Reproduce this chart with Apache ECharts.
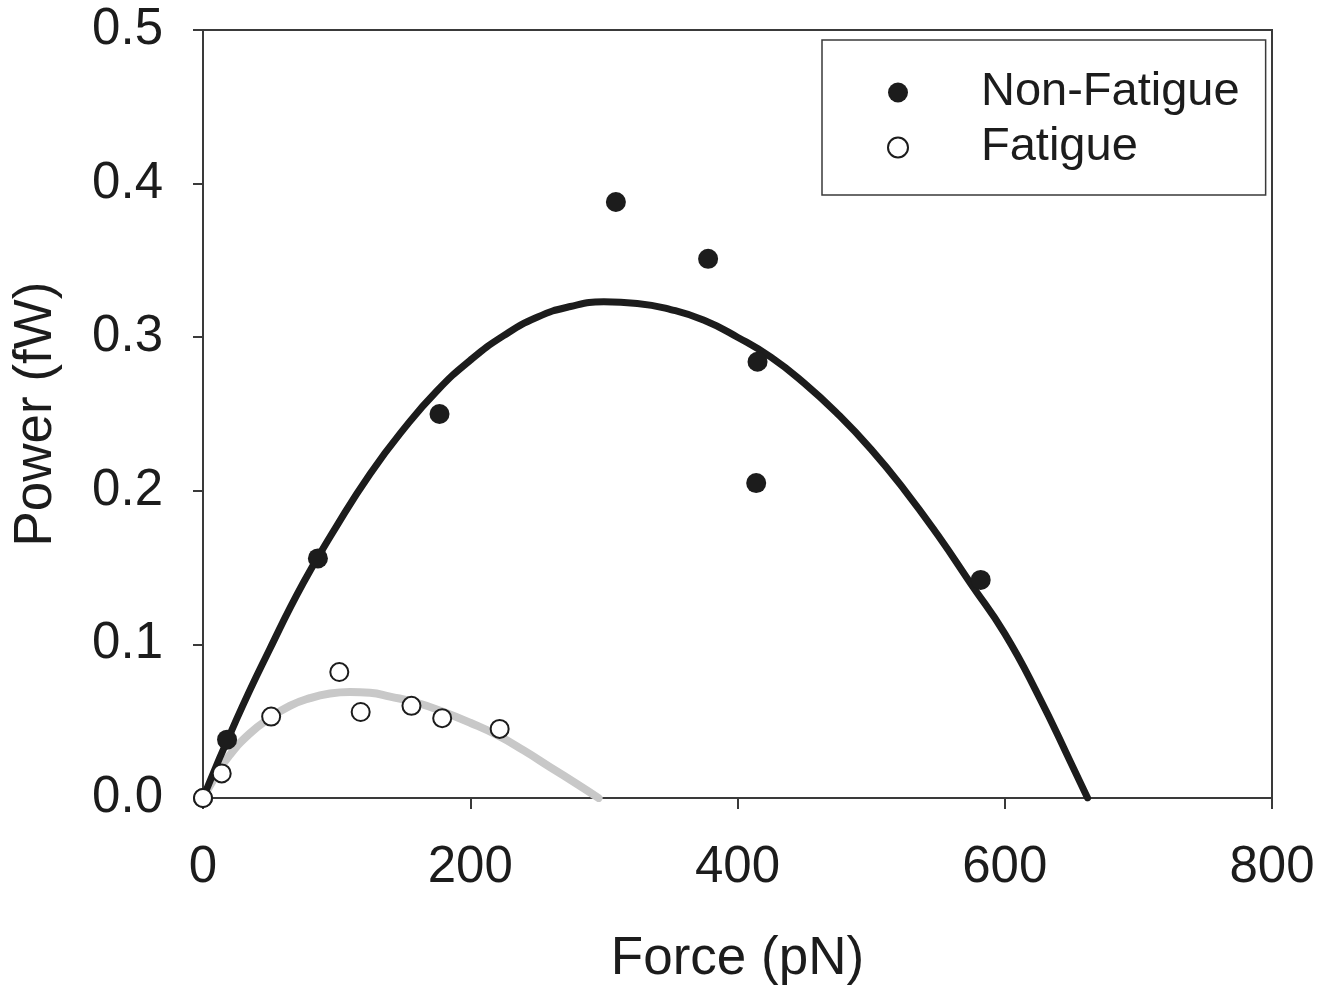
<!DOCTYPE html>
<html>
<head>
<meta charset="utf-8">
<script src="https://cdn.jsdelivr.net/npm/echarts@6/dist/echarts.min.js"></script>
<style>
html,body{margin:0;padding:0;background:#fff;}
#chart{width:1336px;height:991px;}
</style>
</head>
<body>
<div id="chart"></div>
<script>
// Measured points
var nonFatigueForce = [0, 18, 86, 177, 309, 378, 415, 414, 582];
var nonFatiguePower = [0, 0.038, 0.156, 0.250, 0.388, 0.351, 0.284, 0.205, 0.142];
var fatigueForce = [0, 14, 51, 102, 118, 156, 179, 222];
var fatiguePower = [0, 0.016, 0.053, 0.082, 0.056, 0.060, 0.052, 0.045];

// Fitted curves
var nonFatigueFitForce = [0, 25, 50, 75, 100, 125, 150, 175, 200, 225, 250, 275, 300, 325, 350, 375, 400, 425, 450, 475, 500, 525, 550, 575, 600, 625, 650, 662];
var nonFatigueFitPower = [0, 0.051, 0.097, 0.140, 0.177, 0.211, 0.240, 0.265, 0.285, 0.301, 0.313, 0.320, 0.323, 0.322, 0.318, 0.311, 0.300, 0.287, 0.270, 0.250, 0.227, 0.2005, 0.171, 0.139, 0.107, 0.067, 0.022, 0];
var fatigueFitForce = [0, 10, 20, 35, 50, 65, 80, 95, 110, 125, 140, 160, 180, 200, 220, 240, 260, 280, 296];
var fatigueFitPower = [0, 0.015, 0.028, 0.042, 0.052, 0.060, 0.065, 0.068, 0.069, 0.0685, 0.066, 0.062, 0.056, 0.049, 0.041, 0.031, 0.020, 0.009, 0];

var xTicks = [0, 200, 400, 600, 800];
var yTicks = [0.0, 0.1, 0.2, 0.3, 0.4, 0.5];
var xName = 'Force (pN)';
var yName = 'Power (fW)';
var seriesNames = ['Non-Fatigue', 'Fatigue'];

function pairs(xs, ys) {
  return xs.map(function (x, i) { return [x, ys[i]]; });
}

var font = 'Liberation Sans, Arial, sans-serif';
var ink = '#1c1c1c';

var chart = echarts.init(document.getElementById('chart'), null, {renderer: 'canvas'});
chart.setOption({
  animation: false,
  backgroundColor: '#ffffff',
  grid: {
    left: 203, top: 30, right: 64, bottom: 190,
    show: true, borderColor: '#3a3a3a', borderWidth: 2
  },
  legend: {
    data: seriesNames,
    orient: 'vertical',
    left: 822, top: 40,
    padding: [29, 26, 24, 65],
    itemWidth: 20, itemHeight: 20,
    itemGap: 8,
    borderColor: '#3a3a3a', borderWidth: 1.5,
    backgroundColor: '#fff',
    textStyle: {
      fontFamily: font, fontSize: 47, color: ink,
      lineHeight: 40, padding: [0, 0, 0, 68]
    }
  },
  xAxis: {
    type: 'value',
    min: xTicks[0], max: xTicks[xTicks.length - 1], interval: 200,
    name: xName, nameLocation: 'middle', nameGap: 135,
    nameTextStyle: {fontFamily: font, fontSize: 53, color: ink},
    axisLine: {show: true, onZero: false, lineStyle: {color: '#3a3a3a', width: 2}},
    axisTick: {show: true, inside: false, length: 11, lineStyle: {color: '#3a3a3a', width: 2}},
    axisLabel: {fontFamily: font, fontSize: 51, color: ink, margin: 44},
    splitLine: {show: false}
  },
  yAxis: {
    type: 'value',
    min: yTicks[0], max: yTicks[yTicks.length - 1], interval: 0.1,
    name: yName, nameLocation: 'middle', nameGap: 140, nameRotate: 90,
    nameTextStyle: {fontFamily: font, fontSize: 53, color: ink},
    axisLine: {show: true, onZero: false, lineStyle: {color: '#3a3a3a', width: 2}},
    axisTick: {show: true, inside: false, length: 10, lineStyle: {color: '#3a3a3a', width: 2}},
    axisLabel: {
      fontFamily: font, fontSize: 51, color: ink, margin: 40,
      formatter: function (v) { return v.toFixed(1); }
    },
    splitLine: {show: false}
  },
  series: [
    {
      name: 'Fatigue fit', type: 'line', smooth: 0.5, showSymbol: false, z: 2,
      data: pairs(fatigueFitForce, fatigueFitPower),
      lineStyle: {color: '#c8c8c8', width: 8, cap: 'round', join: 'round'},
      silent: true
    },
    {
      name: 'Non-Fatigue fit', type: 'line', smooth: 0.5, showSymbol: false, z: 2,
      data: pairs(nonFatigueFitForce, nonFatigueFitPower),
      lineStyle: {color: ink, width: 7, cap: 'round', join: 'round'},
      silent: true
    },
    {
      name: seriesNames[0], type: 'scatter', z: 3,
      symbol: 'circle', symbolSize: 20,
      data: pairs(nonFatigueForce, nonFatiguePower),
      itemStyle: {color: ink, borderColor: ink, borderWidth: 0, opacity: 1}
    },
    {
      name: seriesNames[1], type: 'scatter', z: 4,
      symbol: 'circle', symbolSize: 18,
      data: pairs(fatigueForce, fatiguePower),
      itemStyle: {color: '#ffffff', borderColor: ink, borderWidth: 2, opacity: 1}
    }
  ]
});
</script>
</body>
</html>
